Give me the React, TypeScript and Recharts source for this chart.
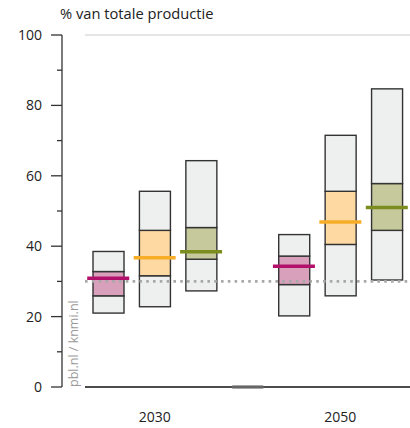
import React from 'react';
import { ComposedChart, Bar, Scatter, XAxis, YAxis, CartesianGrid, ReferenceLine, Cell } from 'recharts';

// one slot per box, plus an empty slot between the two years
const slots = ['2030a', '2030', '2030c', 'gap', '2050a', '2050', '2050c'];
const slotLabels = ['', '2030', '', '', '', '2050', ''];

const lows = [21.0, 22.8, 27.3, 0, 20.2, 25.9, 30.4];
const q1s = [25.9, 31.6, 36.3, 0, 29.1, 40.5, 44.5];
const q3s = [32.8, 44.5, 45.3, 0, 37.2, 55.6, 57.8];
const highs = [38.5, 55.6, 64.3, 0, 43.3, 71.5, 84.7];
const medians = [30.9, 36.7, 38.4, null, 34.3, 46.9, 51.0];

const currentLevel = 30;
const yTicks = [0, 10, 20, 30, 40, 50, 60, 70, 80, 90, 100];
const gridTicks = [0, 20, 40, 60, 80, 100];

const boxFills = ['#d9a0bc', '#fedaa2', '#c6c99b', '#d9a0bc', '#d9a0bc', '#fedaa2', '#c6c99b'];
const medianColors = ['#b3106b', '#f8ad27', '#7c8d20', '#b3106b', '#b3106b', '#f8ad27', '#7c8d20'];

const FONT = '"Open Sans", sans-serif';
const INSET = 23; // gap between the y axis line and the plot

const data = slots.map((slot, i) => ({
  slot,
  base: lows[i],
  lower: q1s[i] - lows[i],
  mid: q3s[i] - q1s[i],
  upper: highs[i] - q3s[i],
  med: medians[i],
}));

const segmentShape = (props: any) => {
  const { x, y, width, height, fill } = props;
  if (!height) {
    return <line x1={x} x2={x + width} y1={y} y2={y} stroke="#666" strokeWidth={2.5} />;
  }
  return <rect x={x} y={y} width={width} height={height} fill={fill} stroke="#333" strokeWidth={1.4} />;
};

const medianShape = (props: any) => {
  const { cx, cy, payload } = props;
  if (payload.med == null) return <g />;
  const i = slots.indexOf(payload.slot);
  return <line x1={cx - 21} x2={cx + 21} y1={cy} y2={cy} stroke={medianColors[i]} strokeWidth={3.5} />;
};

const YTick = (p: any) => {
  const v = p.payload.value;
  const major = v % 20 === 0;
  return (
    <g>
      <line x1={p.x - (major ? 11 : 5)} x2={p.x} y1={p.y} y2={p.y} stroke="#333" strokeWidth={1.3} />
      {major && (
        <text x={p.x - 20} y={p.y} dy="0.35em" textAnchor="end" fontFamily={FONT} fontSize={14} fill="#222">
          {v}
        </text>
      )}
    </g>
  );
};

const XTick = (p: any) => {
  const label = slotLabels[p.index] ?? '';
  if (!label) return <g />;
  return (
    <text x={p.x} y={p.y + 35} textAnchor="middle" fontFamily={FONT} fontSize={14} fill="#222">
      {label}
    </text>
  );
};

const gridLine = (p: any) => {
  const bottom = Math.abs(p.y1 - (p.y + p.height)) < 0.5;
  return (
    <line
      key={`h-${p.index}`}
      x1={p.x1 + INSET}
      x2={p.x2}
      y1={p.y1}
      y2={p.y2}
      stroke={bottom ? '#111' : '#dcdcdc'}
      strokeWidth={bottom ? 1.3 : 1.5}
    />
  );
};

const dottedLine = (p: any) => (
  <line
    x1={p.x1 + INSET}
    x2={p.x2}
    y1={p.y1}
    y2={p.y2}
    stroke="#a8a8a8"
    strokeWidth={2.6}
    strokeDasharray="2.6 4.2"
  />
);

export default function App() {
  return (
    <div style={{ position: 'absolute', left: 0, top: 0, width: 410, height: 428, background: '#fff' }}>
      <div
        style={{
          position: 'absolute',
          left: 60,
          top: 3,
          fontFamily: FONT,
          fontSize: 14.7,
          color: '#222',
          whiteSpace: 'nowrap',
        }}
      >
        % van totale productie
      </div>
      <ComposedChart width={410} height={428} data={data} margin={{ top: 35, right: 0, bottom: 0, left: 0 }}>
        <YAxis yAxisId="grid" hide domain={[0, 100]} ticks={gridTicks} />
        <CartesianGrid yAxisId="grid" vertical={false} horizontal={gridLine} />
        <XAxis
          dataKey="slot"
          padding={{ left: INSET, right: 0 }}
          axisLine={false}
          tickLine={false}
          tickSize={0}
          tickMargin={0}
          height={41}
          interval={0}
          tick={<XTick />}
        />
        <YAxis
          domain={[0, 100]}
          ticks={yTicks}
          width={62}
          interval={0}
          tickSize={0}
          tickMargin={0}
          tickLine={false}
          axisLine={{ stroke: '#333', strokeWidth: 1.3 }}
          tick={<YTick />}
        />
        <Bar dataKey="base" stackId="box" fill="none" barSize={31} isAnimationActive={false} />
        <Bar dataKey="lower" stackId="box" fill="#eef0ef" barSize={31} shape={segmentShape} isAnimationActive={false} />
        <Bar dataKey="mid" stackId="box" barSize={31} shape={segmentShape} isAnimationActive={false}>
          {data.map((d, i) => (
            <Cell key={d.slot} fill={boxFills[i]} />
          ))}
        </Bar>
        <Bar dataKey="upper" stackId="box" fill="#eef0ef" barSize={31} shape={segmentShape} isAnimationActive={false} />
        <ReferenceLine y={currentLevel} shape={dottedLine} />
        <Scatter dataKey="med" shape={medianShape} isAnimationActive={false} />
      </ComposedChart>
      <div
        style={{
          position: 'absolute',
          left: 67,
          top: 387,
          transform: 'rotate(-90deg)',
          transformOrigin: '0 0',
          fontFamily: FONT,
          fontSize: 12.5,
          lineHeight: '14px',
          color: '#9a9a9a',
          whiteSpace: 'nowrap',
        }}
      >
        pbl.nl / knmi.nl
      </div>
    </div>
  );
}
